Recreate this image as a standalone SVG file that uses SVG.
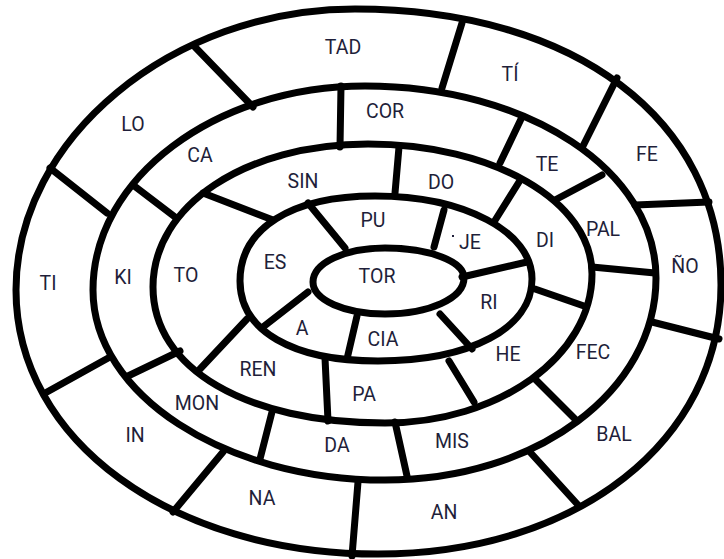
<svg xmlns="http://www.w3.org/2000/svg" width="724" height="559" viewBox="0 0 724 559">
<style>
.ring{fill:none;stroke:#000;stroke-width:7}
.div{stroke:#000;stroke-width:7;stroke-linecap:round}
.lbl{font-family:Roboto,"Liberation Sans",Arial,sans-serif;font-size:19.5px;fill:#1f1f3a;text-anchor:middle}
</style>
<rect width="724" height="559" fill="#fff"/>
<g id="rings">
<path id="ring1" class="ring" d="M721,285 C721,119.4 574.6,9 355,9 C172,9 16,138.3 16,290 C16,440.5 171.7,554 378,554 C576.9,554 721,441 721,285 Z"/>
<path id="ring2" class="ring" d="M656,278 C656,170.5 528,86 365,86 C215.4,86 93,177.8 93,290 C93,394.5 224.4,480 385,480 C536.8,480 656,391.1 656,278 Z"/>
<path id="ring3" class="ring" d="M592,274 C592,201.2 493.4,144 368,144 C245.4,144 153,205.5 153,287 C153,368.6 245.8,423 385,423 C498.9,423 592,356 592,274 Z"/>
<path id="ring4" class="ring" d="M532,279 C532,231.7 464.5,196 375,196 C291.3,196 240,228.3 240,281 C240,330.6 292.4,361 378,361 C470.4,361 532,328.2 532,279 Z"/>
<path id="ring5" class="ring" d="M464,278 C464,261.2 429.2,248 385,248 C344.7,248 313,263 313,282 C313,299.9 344.7,314 385,314 C429.2,314 464,298.2 464,278 Z"/>
</g>
<g id="connectors">
<line class="div" x1="195" y1="47" x2="253" y2="107"/>
<line class="div" x1="462" y1="23" x2="442" y2="88"/>
<line class="div" x1="617" y1="78" x2="582" y2="148"/>
<line class="div" x1="635" y1="205" x2="709" y2="202"/>
<line class="div" x1="652" y1="322" x2="719" y2="339"/>
<line class="div" x1="529" y1="451" x2="579" y2="506"/>
<line class="div" x1="358" y1="482" x2="352" y2="556"/>
<line class="div" x1="223" y1="452" x2="173" y2="512"/>
<line class="div" x1="110" y1="357" x2="47" y2="392"/>
<line class="div" x1="50" y1="168" x2="107" y2="213"/>
<line class="div" x1="341" y1="86" x2="340" y2="147"/>
<line class="div" x1="522" y1="117" x2="500" y2="163"/>
<line class="div" x1="602" y1="175" x2="555" y2="200"/>
<line class="div" x1="592" y1="267" x2="655" y2="273"/>
<line class="div" x1="535" y1="379" x2="575" y2="419"/>
<line class="div" x1="395" y1="422" x2="407" y2="476"/>
<line class="div" x1="272" y1="412" x2="260" y2="459"/>
<line class="div" x1="180" y1="351" x2="128" y2="376"/>
<line class="div" x1="133" y1="185" x2="175" y2="217"/>
<line class="div" x1="203" y1="193" x2="273" y2="220"/>
<line class="div" x1="399" y1="147" x2="395" y2="193"/>
<line class="div" x1="519" y1="182" x2="494" y2="222"/>
<line class="div" x1="535" y1="289" x2="584" y2="306"/>
<line class="div" x1="449" y1="361" x2="474" y2="402"/>
<line class="div" x1="325" y1="358" x2="328" y2="421"/>
<line class="div" x1="247" y1="319" x2="200" y2="369"/>
<line class="div" x1="308" y1="203" x2="345" y2="248"/>
<line class="div" x1="444" y1="210" x2="434" y2="247"/>
<line class="div" x1="527" y1="262" x2="462" y2="277"/>
<line class="div" x1="440" y1="314" x2="472" y2="349"/>
<line class="div" x1="357" y1="316" x2="347" y2="359"/>
<line class="div" x1="308" y1="292" x2="263" y2="327"/>
</g>
<g id="cell-TAD"><text class="lbl" x="343" y="54">TAD</text></g>
<g id="cell-TI1"><text class="lbl" x="510" y="81">TÍ</text></g>
<g id="cell-FE"><text class="lbl" x="647" y="161">FE</text></g>
<g id="cell-NO"><text class="lbl" x="685" y="273">ÑO</text></g>
<g id="cell-BAL"><text class="lbl" x="614" y="441">BAL</text></g>
<g id="cell-AN"><text class="lbl" x="444" y="519">AN</text></g>
<g id="cell-NA"><text class="lbl" x="262" y="505">NA</text></g>
<g id="cell-IN"><text class="lbl" x="135" y="442">IN</text></g>
<g id="cell-TI2"><text class="lbl" x="48" y="290">TI</text></g>
<g id="cell-LO"><text class="lbl" x="133" y="131">LO</text></g>
<g id="cell-COR"><text class="lbl" x="385" y="118">COR</text></g>
<g id="cell-TE"><text class="lbl" x="547" y="171">TE</text></g>
<g id="cell-PAL"><text class="lbl" x="603" y="236">PAL</text></g>
<g id="cell-FEC"><text class="lbl" x="593" y="359">FEC</text></g>
<g id="cell-MIS"><text class="lbl" x="452" y="448">MIS</text></g>
<g id="cell-DA"><text class="lbl" x="337" y="452">DA</text></g>
<g id="cell-MON"><text class="lbl" x="197" y="410">MON</text></g>
<g id="cell-KI"><text class="lbl" x="123" y="284">KI</text></g>
<g id="cell-CA"><text class="lbl" x="200" y="162">CA</text></g>
<g id="cell-SIN"><text class="lbl" x="303" y="188">SIN</text></g>
<g id="cell-DO"><text class="lbl" x="441" y="189">DO</text></g>
<g id="cell-DI"><text class="lbl" x="545" y="247">DI</text></g>
<g id="cell-HE"><text class="lbl" x="508" y="361">HE</text></g>
<g id="cell-PA"><text class="lbl" x="364" y="401">PA</text></g>
<g id="cell-REN"><text class="lbl" x="258" y="376">REN</text></g>
<g id="cell-TO"><text class="lbl" x="186" y="282">TO</text></g>
<g id="cell-PU"><text class="lbl" x="373" y="227">PU</text></g>
<g id="cell-JE"><rect x="452" y="235" width="2" height="2" fill="#1f1f3a"/><text class="lbl" x="470" y="249">JE</text></g>
<g id="cell-RI"><text class="lbl" x="489" y="309">RI</text></g>
<g id="cell-CIA"><text class="lbl" x="383" y="346">CIA</text></g>
<g id="cell-A"><text class="lbl" x="302" y="335">A</text></g>
<g id="cell-ES"><text class="lbl" x="275" y="269">ES</text></g>
<g id="cell-TOR"><text class="lbl" x="377" y="283">TOR</text></g>
</svg>
